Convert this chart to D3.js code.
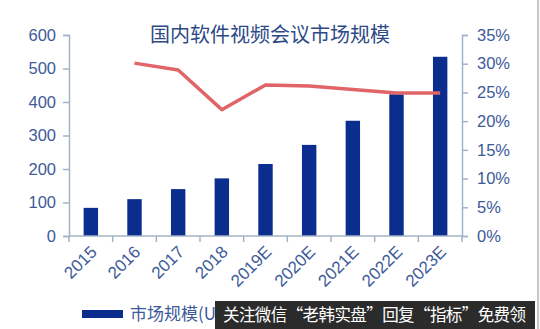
<!DOCTYPE html>
<html>
<head>
<meta charset="utf-8">
<script src="https://cdn.jsdelivr.net/npm/d3@7"></script>
<style>
  html, body { margin: 0; padding: 0; background: #fff; }
  svg { display: block; }
</style>
</head>
<body>
<svg id="chart" width="540" height="329"></svg>
<script>
// data
const years = ["2015", "2016", "2017", "2018", "2019E", "2020E", "2021E", "2022E", "2023E"];
const marketSize = [84, 110, 140, 172, 215, 272, 344, 423, 535];
const growthYears = ["2016", "2017", "2018", "2019E", "2020E", "2021E", "2022E", "2023E"];
const growthRate = [30.1, 28.9, 22.0, 26.3, 26.1, 25.5, 24.9, 24.9];
const leftTicks = [0, 100, 200, 300, 400, 500, 600];
const rightTicks = [0, 5, 10, 15, 20, 25, 30, 35];

const svg = d3.select("#chart");
const plotL = 69, plotR = 462, plotT = 35, plotB = 236;
const axisColor = "#a3b3c6";
const labelColor = "#3d5a99";
const numFont = "'Liberation Sans', Arial, sans-serif";
const cjkFont = "'Noto Sans CJK SC', sans-serif";

const x = d3.scaleBand().domain(years).range([plotL, plotR]).padding(0);
const yL = d3.scaleLinear().domain([0, 600]).range([plotB, plotT]);
const yR = d3.scaleLinear().domain([0, 35]).range([plotB, plotT]);

// title
svg.append("text")
  .attr("x", 270).attr("y", 42)
  .attr("text-anchor", "middle")
  .attr("font-family", cjkFont)
  .attr("font-size", 20)
  .attr("fill", "#2d4a86")
  .text("国内软件视频会议市场规模");

// bars
const barW = x.bandwidth() * 0.33;
svg.append("g").selectAll("rect")
  .data(years.map((y, i) => ({ year: y, value: marketSize[i] })))
  .enter().append("rect")
  .attr("x", d => x(d.year) + (x.bandwidth() - barW) / 2)
  .attr("y", d => yL(d.value))
  .attr("width", barW)
  .attr("height", d => plotB - yL(d.value))
  .attr("fill", "#0b2d8e");

// growth line
const line = d3.line()
  .x(d => x(d.year) + x.bandwidth() / 2)
  .y(d => yR(d.value));
svg.append("path")
  .datum(growthYears.map((y, i) => ({ year: y, value: growthRate[i] })))
  .attr("d", line)
  .attr("fill", "none")
  .attr("stroke", "#e06468")
  .attr("stroke-width", 3.5)
  .attr("stroke-linejoin", "round");

// left axis
const gl = svg.append("g")
  .attr("transform", `translate(${plotL},0)`)
  .call(d3.axisLeft(yL).tickValues(leftTicks).tickSize(6).tickPadding(7));
// right axis
const gr = svg.append("g")
  .attr("transform", `translate(${plotR},0)`)
  .call(d3.axisRight(yR).tickValues(rightTicks).tickSize(6).tickPadding(9)
    .tickFormat(d => d + "%"));

[gl, gr].forEach(g => {
  g.select(".domain").attr("stroke", axisColor).attr("stroke-width", 1.5);
  g.selectAll(".tick line").attr("stroke", axisColor).attr("stroke-width", 1.5);
  g.selectAll(".tick text")
    .attr("fill", labelColor)
    .attr("font-family", numFont)
    .attr("font-size", 16.5);
});

// bottom axis: line, boundary ticks, rotated labels
const gb = svg.append("g").attr("transform", `translate(0,${plotB})`);
gb.append("line")
  .attr("x1", plotL).attr("x2", plotR)
  .attr("stroke", axisColor).attr("stroke-width", 1.5);
gb.selectAll(".bt")
  .data(years.map(y => x(y)).concat([plotR]))
  .enter().append("line")
  .attr("x1", d => d).attr("x2", d => d)
  .attr("y1", 0).attr("y2", 6)
  .attr("stroke", axisColor).attr("stroke-width", 1.5);
gb.selectAll(".bl")
  .data(years)
  .enter().append("text")
  .attr("transform", d => `translate(${x(d) + x.bandwidth() / 2 + 7},${17}) rotate(-45)`)
  .attr("text-anchor", "end")
  .attr("font-family", numFont)
  .attr("font-size", 17)
  .attr("fill", labelColor)
  .text(d => d);

// legend (mostly hidden under the banner, as in the source)
svg.append("rect")
  .attr("x", 82).attr("y", 310)
  .attr("width", 41).attr("height", 8)
  .attr("fill", "#0b2d8e");
svg.append("text")
  .attr("x", 130).attr("y", 320)
  .attr("font-family", cjkFont)
  .attr("font-size", 17)
  .attr("fill", labelColor)
  .text("市场规模(US$百万)");

// watermark banner
svg.append("rect")
  .attr("x", 215).attr("y", 301)
  .attr("width", 320).attr("height", 28)
  .attr("fill", "#2b2b2b");
svg.append("text")
  .attr("x", 223).attr("y", 321)
  .attr("font-family", cjkFont)
  .attr("font-size", 16.5)
  .attr("fill", "#ffffff")
  .attr("textLength", 303)
  .text("关注微信“老韩实盘”回复“指标”免费领");

// right border
svg.append("line")
  .attr("x1", 538).attr("x2", 538).attr("y1", 0).attr("y2", 329)
  .attr("stroke", "#c8c8c8").attr("stroke-width", 2);
</script>
</body>
</html>
